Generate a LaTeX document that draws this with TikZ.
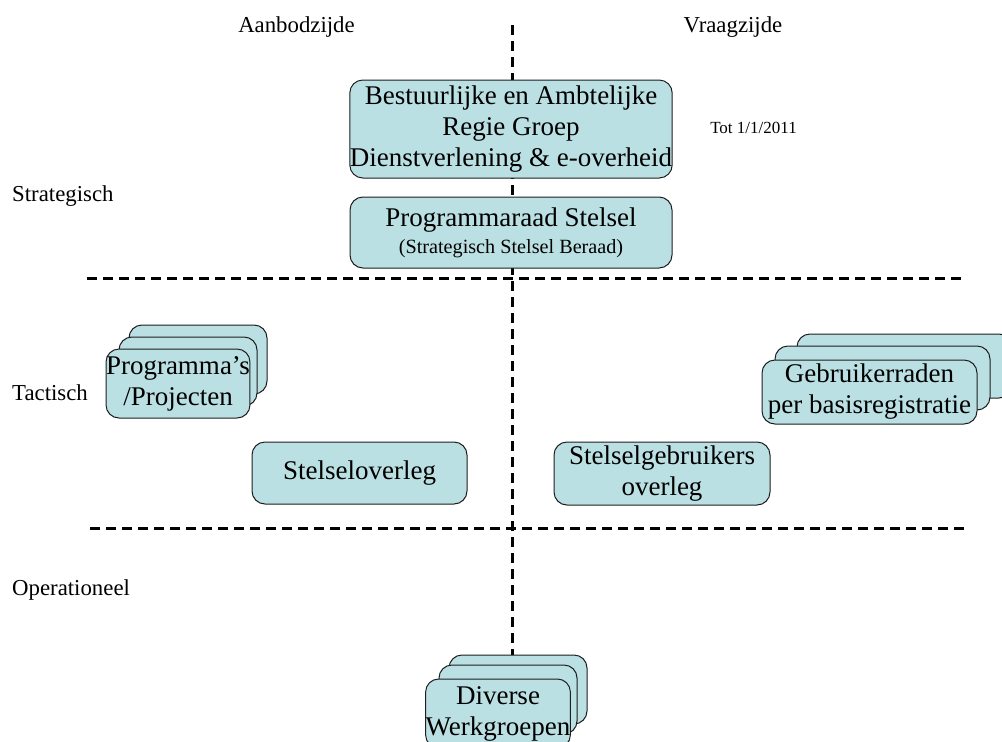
\documentclass[tikz,border=0pt]{standalone}
\usepackage{fontspec}
\setmainfont{Liberation Serif}
\definecolor{boxfill}{RGB}{187,224,227}
\definecolor{boxline}{RGB}{30,30,30}
\tikzset{
  box/.style={draw=boxline, fill=boxfill, rounded corners=13pt, line width=1pt,
    inner sep=0pt, align=center, font=\fontsize{27}{31}\selectfont},
  sidelabel/.style={anchor=base, inner sep=0pt, font=\fontsize{22.8}{26}\selectfont},
  divider/.style={line width=3pt, dash pattern=on 10pt off 6pt},
}
\begin{document}
\begin{tikzpicture}[x=1pt,y=-1pt]
\useasboundingbox (0,0) rectangle (1002,742);
\clip (0,0) rectangle (1002,742);

% column labels
\node[sidelabel] (aanbod) at (296.5,32) {Aanbodzijde};
\node[sidelabel] (vraag) at (733,32) {Vraagzijde};

% row labels
\node[sidelabel, anchor=base west] (strat) at (12,201) {Strategisch};
\node[sidelabel, anchor=base west] (tact) at (12,400) {Tactisch};
\node[sidelabel, anchor=base west] (oper) at (12,595) {Operationeel};

% dividers
\coordinate (vtop) at (512,25);
\coordinate (vbot) at (512,655);
\coordinate (h1l) at (87,278);
\coordinate (h1r) at (962,278);
\coordinate (h2l) at (90,528);
\coordinate (h2r) at (965,528);
\draw[divider] (vtop) -- (vbot);
\draw[divider] (h1l) -- (h1r);
\draw[divider] (h2l) -- (h2r);

% strategic boxes
\node[box, minimum width=322pt, minimum height=98pt] (regie) at (511,129)
  {Bestuurlijke en Ambtelijke\\Regie Groep\\Dienstverlening \& e-overheid};
\node[anchor=base, inner sep=0pt, font=\fontsize{17}{20}\selectfont] (tot) at (753.5,133) {Tot 1/1/2011};
\node[box, minimum width=322pt, minimum height=71pt] (prograad) at (511,232.5)
  {Programmaraad Stelsel\\[-4pt]{\fontsize{20.2}{23}\selectfont(Strategisch Stelsel Beraad)}};

% Programma's stack
\node[box, minimum width=138pt, minimum height=69pt] (prog3) at (198,359.5) {};
\node[box, minimum width=138pt, minimum height=69pt] (prog2) at (188,371.5) {};
\node[box, minimum width=138pt, minimum height=69pt] (prog1) at (178,383.5) {Programma’s\\/Projecten};

% tactical boxes
\node[box, minimum width=215pt, minimum height=62pt] (overleg) at (359.5,473) {Stelseloverleg};
\node[box, minimum width=216pt, minimum height=63pt] (gebroverleg) at (662,473.5) {Stelselgebruikers\\overleg};

% Gebruikerraden stack
\node[box, minimum width=215pt, minimum height=64pt] (geb3) at (904.5,366) {};
\node[box, minimum width=215pt, minimum height=64pt] (geb2) at (882.5,378) {};
\node[box, minimum width=215pt, minimum height=64pt] (geb1) at (869.5,392) {Gebruikerraden\\per basisregistratie};

% Werkgroepen stack
\node[box, minimum width=138pt, minimum height=69pt] (wg3) at (518,689.5) {};
\node[box, minimum width=138pt, minimum height=69pt] (wg2) at (508,699.5) {};
\node[box, minimum width=138pt, minimum height=69pt] (wg1) at (498,713.5) {Diverse\\Werkgroepen};
\end{tikzpicture}
\end{document}
